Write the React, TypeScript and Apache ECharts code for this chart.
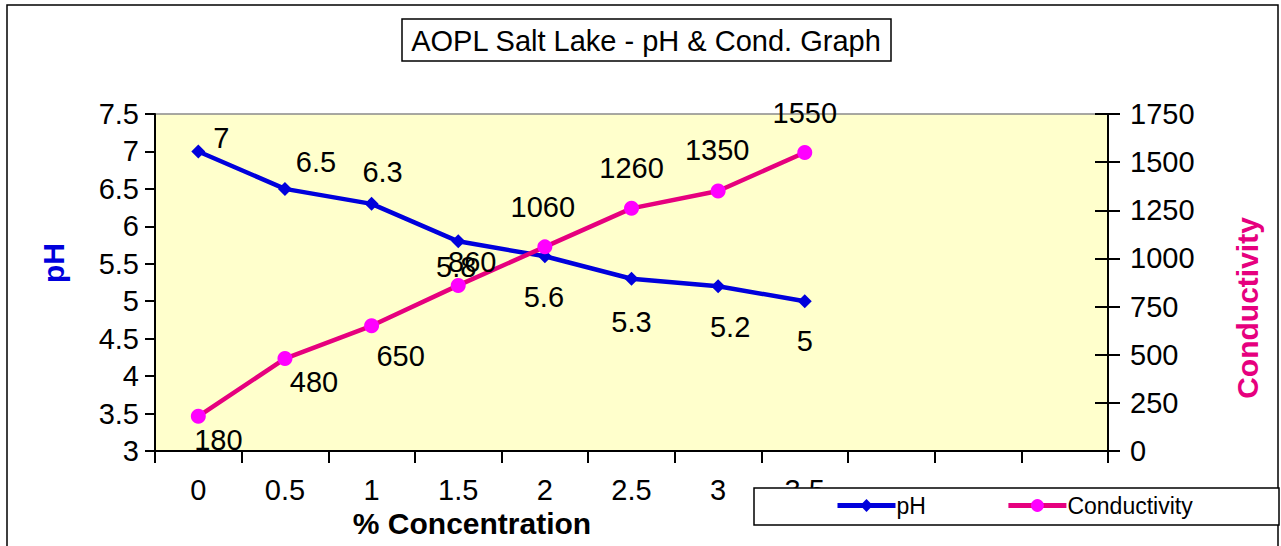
import React, { useEffect, useRef } from "react";
import * as echarts from "echarts";

const categories = ["0", "0.5", "1", "1.5", "2", "2.5", "3", "3.5", "", "", ""];
const phValues = [7, 6.5, 6.3, 5.8, 5.6, 5.3, 5.2, 5];
const condValues = [180, 480, 650, 860, 1060, 1260, 1350, 1550];
const phAxis = { min: 3, max: 7.5, interval: 0.5 };
const condAxis = { min: 0, max: 1750, interval: 250 };
const titleText = "AOPL Salt Lake - pH & Cond. Graph";
const seriesNames = ["pH", "Conductivity"];
const xAxisTitle = "% Concentration";

// label placement (pixels, relative to point)
const phLabelOffsets = [[23, -13], [31, -27], [11, -32], [-2, 26], [-1, 41], [0, 43], [12, 41], [0, 40]];
const condLabelOffsets = [[20, 24], [29, 23], [29, 30], [14, -23], [-2, -40], [0, -40], [-1, -41], [0, -40]];

const FONT = "'Liberation Sans', Arial, sans-serif";
const BLUE = "#0000DC";
const PINK = "#E6007E";
const MAGENTA = "#FF00FF";

export default function App() {
  const ref = useRef<HTMLDivElement>(null);
  useEffect(() => {
    if (!ref.current) return;
    const chart = echarts.init(ref.current, null, { renderer: "svg" });
    const labelBase = {
      show: true,
      position: "inside",
      color: "#000",
      fontSize: 29,
      fontFamily: FONT,
    };
    chart.setOption({
      animation: false,
      backgroundColor: "#fff",
      textStyle: { fontFamily: FONT },
      grid: {
        left: 155,
        right: 173,
        top: 114,
        bottom: 95,
        show: true,
        backgroundColor: "#FFFFCC",
        borderColor: "#8a8a8a",
        borderWidth: 1.5,
      },
      legend: {
        data: seriesNames,
        left: 835,
        top: 494,
        padding: 0,
        itemWidth: 58,
        itemHeight: 16,
        itemGap: 80,
        z: 20,
        lineStyle: { width: 5 },
        textStyle: { fontSize: 23, fontFamily: FONT, color: "#000", padding: [0, 0, 0, -4] },
      },
      xAxis: {
        type: "category",
        data: categories,
        boundaryGap: true,
        axisLine: { lineStyle: { color: "#000", width: 2 } },
        axisTick: { show: true, length: 12, lineStyle: { color: "#000", width: 2 } },
        axisLabel: { fontSize: 29, fontFamily: FONT, color: "#000", margin: 24, interval: 0 },
        splitLine: { show: false },
      },
      yAxis: [
        {
          type: "value",
          position: "left",
          min: phAxis.min,
          max: phAxis.max,
          interval: phAxis.interval,
          axisLine: { show: true, lineStyle: { color: "#000", width: 2 } },
          axisTick: { show: true, length: 10, lineStyle: { color: "#000", width: 2 } },
          axisLabel: { fontSize: 29, fontFamily: FONT, color: "#000", margin: 16 },
          splitLine: { show: false },
        },
        {
          type: "value",
          position: "right",
          min: condAxis.min,
          max: condAxis.max,
          interval: condAxis.interval,
          axisLine: { show: true, lineStyle: { color: "#000", width: 2 } },
          axisTick: { show: true, length: 12, lineStyle: { color: "#000", width: 2 } },
          axisLabel: { fontSize: 29, fontFamily: FONT, color: "#000", margin: 22, formatter: (v: number) => String(v) },
          splitLine: { show: false },
        },
        {
          type: "value",
          position: "right",
          min: condAxis.min,
          max: condAxis.max,
          interval: condAxis.interval,
          axisLine: { show: false },
          axisTick: { show: true, inside: true, length: 13, lineStyle: { color: "#000", width: 2 } },
          axisLabel: { show: false },
          splitLine: { show: false },
        },
      ],
      series: [
        {
          name: seriesNames[0],
          type: "line",
          yAxisIndex: 0,
          data: phValues.map((v, i) => ({
            value: v,
            label: { ...labelBase, offset: phLabelOffsets[i] },
          })),
          symbol: "diamond",
          symbolSize: 14,
          lineStyle: { color: BLUE, width: 4.5 },
          itemStyle: { color: BLUE },
          z: 3,
        },
        {
          name: seriesNames[1],
          type: "line",
          yAxisIndex: 1,
          data: condValues.map((v, i) => ({
            value: v,
            label: { ...labelBase, offset: condLabelOffsets[i] },
          })),
          symbol: "circle",
          symbolSize: 15,
          lineStyle: { color: PINK, width: 4.5 },
          itemStyle: { color: MAGENTA },
          z: 4,
        },
      ],
      graphic: [
        {
          type: "rect",
          shape: { x: 7, y: 5, width: 1271, height: 600 },
          style: { fill: "none", stroke: "#000", lineWidth: 1.5 },
          z: 1,
          silent: true,
        },
        {
          type: "rect",
          shape: { x: 402, y: 19, width: 489, height: 42 },
          style: { fill: "#fff", stroke: "#000", lineWidth: 1.5 },
          z: 5,
        },
        {
          type: "text",
          x: 646,
          y: 41,
          style: { text: titleText, fontSize: 29, fontFamily: FONT, fill: "#000", align: "center", verticalAlign: "middle" },
          z: 6,
        },
        {
          type: "text",
          x: 53,
          y: 263,
          rotation: Math.PI / 2,
          style: { text: seriesNames[0], fontSize: 30, fontWeight: "bold", fontFamily: FONT, fill: BLUE, align: "center", verticalAlign: "middle" },
          z: 6,
        },
        {
          type: "text",
          x: 1247,
          y: 308,
          rotation: Math.PI / 2,
          style: { text: seriesNames[1], fontSize: 30, fontWeight: "bold", fontFamily: FONT, fill: PINK, align: "center", verticalAlign: "middle" },
          z: 6,
        },
        {
          type: "text",
          x: 472,
          y: 523,
          style: { text: xAxisTitle, fontSize: 30, fontWeight: "bold", fontFamily: FONT, fill: "#000", align: "center", verticalAlign: "middle" },
          z: 6,
        },
        {
          type: "rect",
          shape: { x: 754, y: 488, width: 525, height: 37 },
          style: { fill: "#fff", stroke: "#000", lineWidth: 1.5 },
          z: 10,
        },
      ],
    });
    return () => chart.dispose();
  }, []);
  return <div ref={ref} style={{ position: "absolute", left: 0, top: 0, width: 1281, height: 546 }} />;
}
